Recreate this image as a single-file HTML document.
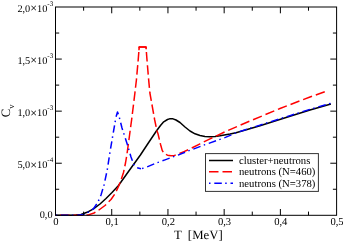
<!DOCTYPE html>
<html><head><meta charset="utf-8"><style>
html,body{margin:0;padding:0;background:#fff;}
svg{display:block;will-change:transform;}
text{font-family:"Liberation Serif",serif;fill:#000;text-rendering:geometricPrecision;}
</style></head><body>
<svg width="343" height="241" viewBox="0 0 343 241">
<g fill="none" stroke-linejoin="round">
<polyline points="55.50,215.30 70.00,215.30 76.00,215.00 81.00,214.50 87.00,212.30 93.50,208.80 100.00,204.00 106.00,198.50 112.00,192.50 118.50,185.50 128.50,171.50 140.40,155.00 148.00,143.50 156.40,131.00 160.50,125.50 163.70,121.80 167.50,119.50 169.50,118.85 173.00,118.85 176.00,120.00 180.00,122.50 185.00,127.00 190.00,131.00 195.00,133.80 200.00,135.50 205.00,136.40 210.00,136.75 215.00,136.50 220.00,135.75 230.00,134.00 236.00,132.75 260.00,125.75 290.00,116.25 310.00,110.05 330.90,103.95" stroke="#000" stroke-width="1.5"/>
<polyline points="55.50,215.30 80.00,215.30 88.50,214.90 94.00,213.00 98.50,210.30 105.00,205.50 111.00,199.50 115.00,193.80 118.50,186.50 121.00,180.00 123.50,172.50 125.50,163.00 126.85,155.00 128.90,140.00 130.90,125.00 131.60,120.00 134.90,93.00 136.40,80.00 138.20,60.00 139.20,47.00 146.00,47.00 147.00,60.00 148.50,78.00 149.90,93.00 154.70,120.00 157.00,131.00 158.00,133.80 160.50,144.20 162.20,150.40 164.00,153.50 167.50,155.20 171.00,155.70" stroke="#ff0000" stroke-width="1.5" stroke-dasharray="9.5 3.7" stroke-dashoffset="8.63"/>
<polyline points="138.95,50.3 139.2,47 146,47 146.2,49.3" stroke="#ff0000" stroke-width="1.5"/>
<polyline points="171.00,155.70 174.50,155.40 178.90,153.80 184.00,151.60 190.00,148.90 200.00,143.80 210.00,138.90 226.00,131.30 250.00,121.00 280.00,108.50 310.00,97.00 326.00,91.30" stroke="#ff0000" stroke-width="1.5" stroke-dasharray="9.5 4.0" stroke-dashoffset="4.69"/>
<polyline points="55.50,215.30 76.00,215.30 83.50,214.60 88.00,212.30 93.50,208.75 98.00,202.00 101.00,195.00 104.00,185.00 107.25,170.00 110.00,152.00 113.75,130.00 116.00,117.00 117.50,112.00 119.00,116.00 122.00,128.00 127.50,145.00 131.00,157.00 133.75,164.50 137.00,167.80 141.00,168.75" stroke="#0000ff" stroke-width="1.5" stroke-dasharray="1.5 3.8 7.5 3.4" stroke-dashoffset="16.01"/>
<polyline points="141.00,168.75 146.00,167.50 155.00,163.50 165.00,159.80 178.00,155.10 190.00,150.30 205.00,144.70 218.00,140.00 226.00,137.20 236.00,132.75 260.00,125.05 290.00,115.55 310.00,109.35 330.90,103.25" stroke="#0000ff" stroke-width="1.4" stroke-dasharray="1.5 3.8 7.7 3.5" stroke-dashoffset="15.37"/>
</g>
<g stroke="#000" stroke-width="1" fill="none">
<rect x="55.5" y="7.0" width="281.1" height="208.3"/>
<line x1="83.61" y1="215.3" x2="83.61" y2="211.60000000000002"/><line x1="83.61" y1="7.0" x2="83.61" y2="10.7"/><line x1="111.72" y1="215.3" x2="111.72" y2="209.0"/><line x1="111.72" y1="7.0" x2="111.72" y2="13.3"/><line x1="139.83" y1="215.3" x2="139.83" y2="211.60000000000002"/><line x1="139.83" y1="7.0" x2="139.83" y2="10.7"/><line x1="167.94" y1="215.3" x2="167.94" y2="209.0"/><line x1="167.94" y1="7.0" x2="167.94" y2="13.3"/><line x1="196.05" y1="215.3" x2="196.05" y2="211.60000000000002"/><line x1="196.05" y1="7.0" x2="196.05" y2="10.7"/><line x1="224.16" y1="215.3" x2="224.16" y2="209.0"/><line x1="224.16" y1="7.0" x2="224.16" y2="13.3"/><line x1="252.27" y1="215.3" x2="252.27" y2="211.60000000000002"/><line x1="252.27" y1="7.0" x2="252.27" y2="10.7"/><line x1="280.38" y1="215.3" x2="280.38" y2="209.0"/><line x1="280.38" y1="7.0" x2="280.38" y2="13.3"/><line x1="308.49" y1="215.3" x2="308.49" y2="211.60000000000002"/><line x1="308.49" y1="7.0" x2="308.49" y2="10.7"/><line x1="55.5" y1="189.26" x2="59.2" y2="189.26"/><line x1="336.6" y1="189.26" x2="332.90000000000003" y2="189.26"/><line x1="55.5" y1="163.23" x2="61.8" y2="163.23"/><line x1="336.6" y1="163.23" x2="330.3" y2="163.23"/><line x1="55.5" y1="137.19" x2="59.2" y2="137.19"/><line x1="336.6" y1="137.19" x2="332.90000000000003" y2="137.19"/><line x1="55.5" y1="111.15" x2="61.8" y2="111.15"/><line x1="336.6" y1="111.15" x2="330.3" y2="111.15"/><line x1="55.5" y1="85.11" x2="59.2" y2="85.11"/><line x1="336.6" y1="85.11" x2="332.90000000000003" y2="85.11"/><line x1="55.5" y1="59.07" x2="61.8" y2="59.07"/><line x1="336.6" y1="59.07" x2="330.3" y2="59.07"/><line x1="55.5" y1="33.04" x2="59.2" y2="33.04"/><line x1="336.6" y1="33.04" x2="332.90000000000003" y2="33.04"/>
</g>
<text x="55.90" y="225.4" text-anchor="middle" font-size="10.6">0</text><text x="112.12" y="225.4" text-anchor="middle" font-size="10.6">0,1</text><text x="168.34" y="225.4" text-anchor="middle" font-size="10.6">0,2</text><text x="224.56" y="225.4" text-anchor="middle" font-size="10.6">0,3</text><text x="280.78" y="225.4" text-anchor="middle" font-size="10.6">0,4</text><text x="337.00" y="225.4" text-anchor="middle" font-size="10.6">0,5</text><text x="53.2" y="168.13" text-anchor="end" font-size="10.3">5,0<tspan font-size="12" dy="0.5">×</tspan><tspan dy="-0.5">10</tspan><tspan dy="-6.3" font-size="7">-4</tspan></text><text x="53.2" y="116.05" text-anchor="end" font-size="10.3">1,0<tspan font-size="12" dy="0.5">×</tspan><tspan dy="-0.5">10</tspan><tspan dy="-6.3" font-size="7">-3</tspan></text><text x="53.2" y="63.97" text-anchor="end" font-size="10.3">1,5<tspan font-size="12" dy="0.5">×</tspan><tspan dy="-0.5">10</tspan><tspan dy="-6.3" font-size="7">-3</tspan></text><text x="53.2" y="11.90" text-anchor="end" font-size="10.3">2,0<tspan font-size="12" dy="0.5">×</tspan><tspan dy="-0.5">10</tspan><tspan dy="-6.3" font-size="7">-3</tspan></text><text x="52.6" y="218.40" text-anchor="end" font-size="10.3">0,0</text>
<text x="173.9" y="238.5" font-size="12.8" xml:space="preserve">T  [MeV]</text>
<text transform="translate(10.4,117.3) rotate(-90)" font-size="12.8">C<tspan dy="3.2" font-size="8.6">v</tspan></text>
<rect x="205.5" y="153.6" width="112.9" height="37.8" fill="#fff" stroke="#333" stroke-width="1"/>
<g fill="none" stroke-width="1.5">
<line x1="209" y1="160.5" x2="233" y2="160.5" stroke="#000"/>
<line x1="209" y1="171.7" x2="233" y2="171.7" stroke="#ff0000" stroke-dasharray="9.5 4"/>
<line x1="209" y1="183.2" x2="233" y2="183.2" stroke="#0000ff" stroke-dasharray="1.5 3.8 7.5 3.4"/>
</g>
<text x="239" y="164" font-size="10.7">cluster+neutrons</text>
<text x="239" y="175.3" font-size="10.7">neutrons (N=460)</text>
<text x="239" y="186.8" font-size="10.7">neutrons (N=378)</text>
</svg>
</body></html>
